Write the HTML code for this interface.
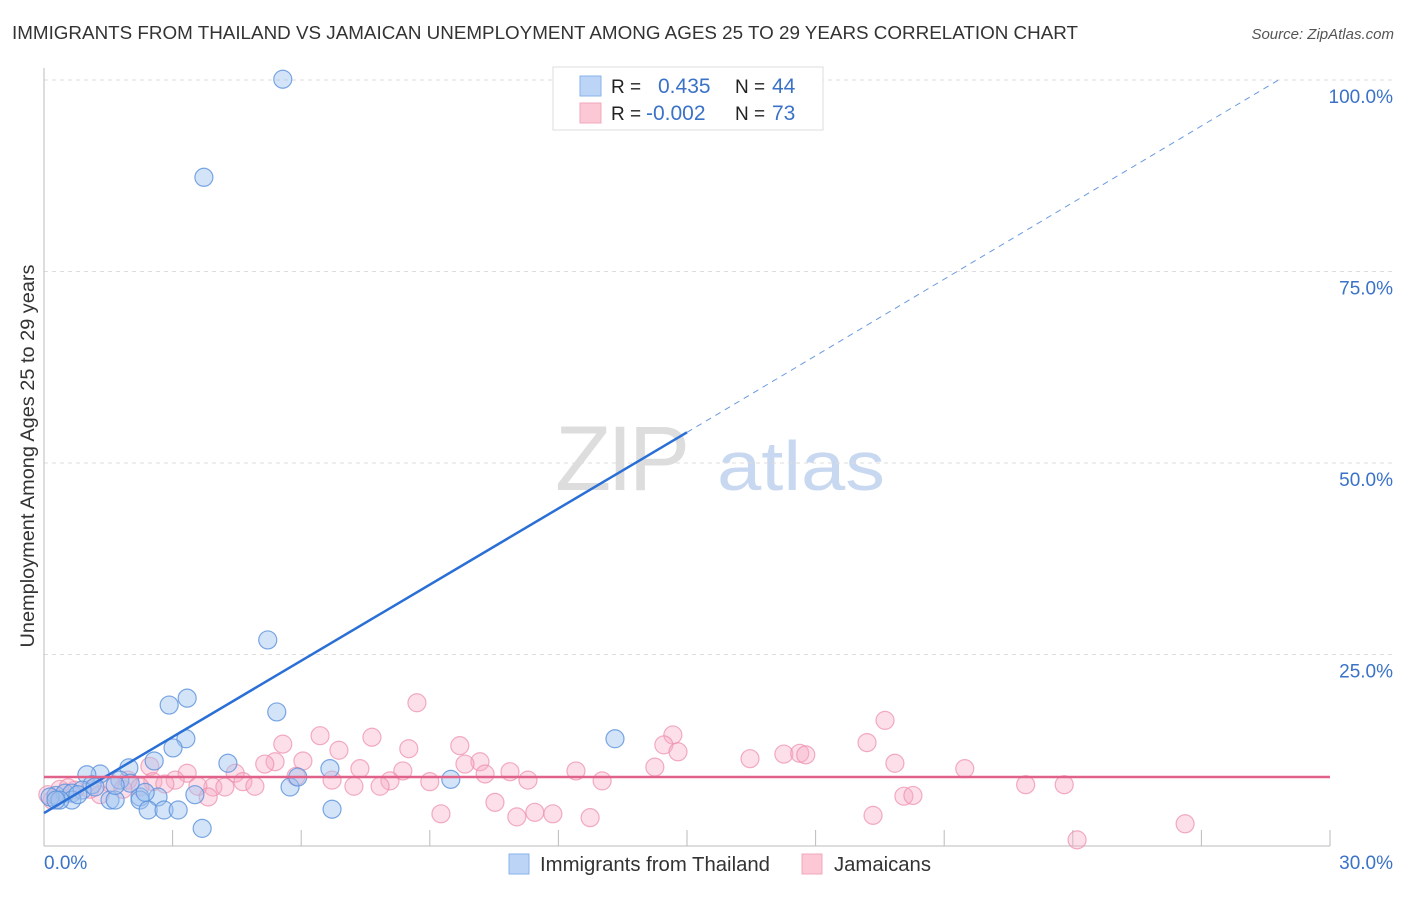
<!DOCTYPE html>
<html><head><meta charset="utf-8">
<style>
body{margin:0;background:#fff;font-family:"Liberation Sans",sans-serif;}
svg text{font-family:"Liberation Sans",sans-serif;}
</style></head>
<body>
<svg id="chart" width="1406" height="892" xmlns="http://www.w3.org/2000/svg">
<text x="12" y="39" font-size="18" fill="#333" textLength="1066" lengthAdjust="spacingAndGlyphs">IMMIGRANTS FROM THAILAND VS JAMAICAN UNEMPLOYMENT AMONG AGES 25 TO 29 YEARS CORRELATION CHART</text>
<text x="1394" y="39" font-size="15" fill="#555" font-style="italic" text-anchor="end">Source: ZipAtlas.com</text>
<text transform="translate(34,456) rotate(-90)" font-size="19" fill="#333" text-anchor="middle" textLength="383" lengthAdjust="spacingAndGlyphs">Unemployment Among Ages 25 to 29 years</text>
<g>
<text x="555" y="490" font-size="92" fill="#ddd" font-family="Liberation Serif" letter-spacing="-4">ZIP</text>
<text x="717" y="490" font-size="70" fill="#c8d8f0" textLength="168" lengthAdjust="spacingAndGlyphs">atlas</text>
</g>
<g id="grid"></g>
<g id="axes"></g>
<g id="pts"></g>
<g id="trend"></g>
<g>
<rect x="553" y="67" width="270" height="63" fill="#fff" stroke="#ddd"/>
<rect x="580" y="76" width="21" height="20" fill="#bcd4f5" stroke="#8ab4ea"/>
<rect x="580" y="103" width="21" height="20" fill="#fcc8d6" stroke="#f0a8bc"/>
<text x="611" y="93" font-size="19" fill="#222">R =</text>
<text x="658" y="93" font-size="21" fill="#3a72c8">0.435</text>
<text x="735" y="93" font-size="19" fill="#222">N =</text>
<text x="772" y="93" font-size="21" fill="#3a72c8">44</text>
<text x="611" y="120" font-size="19" fill="#222">R =</text>
<text x="646" y="120" font-size="21" fill="#3a72c8">-0.002</text>
<text x="735" y="120" font-size="19" fill="#222">N =</text>
<text x="772" y="120" font-size="21" fill="#3a72c8">73</text>
</g>
<g>
<rect x="509" y="854" width="20" height="20" fill="#bcd4f5" stroke="#8ab4ea"/>
<text x="540" y="871" font-size="20" fill="#333" textLength="230" lengthAdjust="spacingAndGlyphs">Immigrants from Thailand</text>
<rect x="802" y="854" width="20" height="20" fill="#fcc8d6" stroke="#f0a8bc"/>
<text x="834" y="871" font-size="20" fill="#333" textLength="97" lengthAdjust="spacingAndGlyphs">Jamaicans</text>
</g>
</svg>
<script>
const yTicks=[25,50,75,100];
const yTickLabels=["25.0%","50.0%","75.0%","100.0%"];
const xTicks=[3,6,9,12,15,18,21,24,27,30];
const blueX=[5.57,3.73,5.22,3.34,2.92,5.43,13.32,3.31,3.01,4.29,2.57,1.98,1.31,1.00,6.67,9.49,1.77,1.12,2.01,5.74,5.92,0.28,0.49,0.65,0.89,1.19,1.54,1.66,2.24,2.66,3.52,0.65,0.14,2.24,2.43,2.80,3.13,6.72,3.69,0.37,0.79,0.28,1.66,2.36,12.45];
const blueY=[100.1,87.3,26.9,19.3,18.4,17.5,14.0,14.0,12.8,10.8,11.1,10.2,9.4,9.3,10.1,8.7,8.6,8.0,8.2,7.7,9.0,6.6,6.9,6.9,7.3,7.7,6.0,6.0,6.4,6.4,6.7,6.0,6.4,6.0,4.7,4.7,4.7,4.8,2.3,6.0,6.7,6.0,7.9,7.0,100.1];
const pinkX=[8.7,19.62,14.67,6.44,7.65,5.57,9.70,14.46,6.88,8.51,14.79,19.2,17.26,17.63,17.77,16.47,19.85,5.39,5.15,6.04,10.17,9.82,2.47,4.46,3.34,7.37,8.37,10.87,12.41,14.25,21.48,10.29,5.88,6.72,8.07,9.00,3.06,2.54,4.64,4.92,3.94,4.22,11.29,13.02,7.23,7.84,3.59,1.96,1.54,1.07,0.72,2.24,3.83,22.9,23.8,10.52,20.06,20.27,9.26,11.03,11.45,11.87,12.74,19.34,26.62,24.1,0.37,0.19,0.09,0.56,1.31,2.82,1.84];
const pinkY=[18.7,16.4,14.5,14.4,14.2,13.3,13.1,13.2,12.5,12.7,12.3,13.5,12.0,12.1,11.9,11.4,10.8,11.0,10.7,11.1,11.0,10.7,10.4,9.5,9.5,10.1,9.8,9.7,9.8,10.3,10.1,9.4,9.1,8.6,8.5,8.4,8.6,8.4,8.4,7.8,7.7,7.7,8.6,8.5,7.8,7.8,7.8,8.6,8.2,7.4,7.3,7.7,6.4,8.0,8.0,5.7,6.5,6.6,4.2,3.8,4.4,4.2,3.7,4.0,2.9,0.8,7.4,6.0,6.7,7.6,6.7,8.1,7.4];
const blueTrend=[[0,4.3],[15,54.0]], blueDash=[[15,54.0],[28.8,100]];
const pinkTrend=[[0,9.0],[30,9.0]];
const X0=44,X1=1330,Y0=846,Y100=80;
const sx=v=>X0+(X1-X0)*v/30, sy=v=>Y0-(Y0-Y100)*v/100;
const NS="http://www.w3.org/2000/svg";
function mk(t,a,p){const e=document.createElementNS(NS,t);for(const k in a)e.setAttribute(k,a[k]);p.appendChild(e);return e;}
const grid=document.getElementById('grid'),axes=document.getElementById('axes'),pts=document.getElementById('pts'),tr=document.getElementById('trend');
yTicks.forEach((t,i)=>{
 const g=mk('line',{x1:X0,x2:1392,y1:sy(t),y2:sy(t),stroke:'#ddd','stroke-dasharray':'4,4'},grid);
 
 
 const l=mk('text',{x:1393,y:sy(t)+23,'font-size':19,fill:'#3a72c8','text-anchor':'end'},axes);
 l.textContent=yTickLabels[i];
 
 
});
const ya=mk('line',{x1:X0,x2:X0,y1:68,y2:Y0,stroke:'#bbb'},axes);


const xa=mk('line',{x1:X0,x2:X1,y1:Y0,y2:Y0,stroke:'#bbb'},axes);


xTicks.forEach(t=>{
 const k=mk('line',{x1:sx(t),x2:sx(t),y1:Y0-16,y2:Y0,stroke:'#bbb'},axes);
 
 
});
const xl0=mk('text',{x:44,y:869,'font-size':19,fill:'#3a72c8'},axes);xl0.textContent='0.0%';


const xl1=mk('text',{x:1393,y:869,'font-size':19,fill:'#3a72c8','text-anchor':'end'},axes);xl1.textContent='30.0%';


pinkX.forEach((v,i)=>{
 const c=mk('circle',{cx:sx(v),cy:sy(pinkY[i]),r:9,fill:'rgba(246,170,196,0.38)',stroke:'rgba(236,140,170,0.7)','stroke-width':1.2},pts);
 
 
});
blueX.forEach((v,i)=>{
 const c=mk('circle',{cx:sx(v),cy:sy(blueY[i]),r:9,fill:'rgba(160,196,240,0.45)',stroke:'rgba(90,145,220,0.8)','stroke-width':1.2},pts);
 
 
});
const b=mk('line',{x1:sx(blueTrend[0][0]),y1:sy(blueTrend[0][1]),x2:sx(blueTrend[1][0]),y2:sy(blueTrend[1][1]),stroke:'#2a6fd6','stroke-width':2.5},tr);


const bd=mk('line',{x1:sx(blueDash[0][0]),y1:sy(blueDash[0][1]),x2:sx(blueDash[1][0]),y2:sy(blueDash[1][1]),stroke:'#6a9ae0','stroke-width':1,'stroke-dasharray':'6,5'},tr);


const p=mk('line',{x1:sx(pinkTrend[0][0]),y1:sy(pinkTrend[0][1]),x2:sx(pinkTrend[1][0]),y2:sy(pinkTrend[1][1]),stroke:'#e0628a','stroke-width':2.5},tr);


</script>
</body></html>
